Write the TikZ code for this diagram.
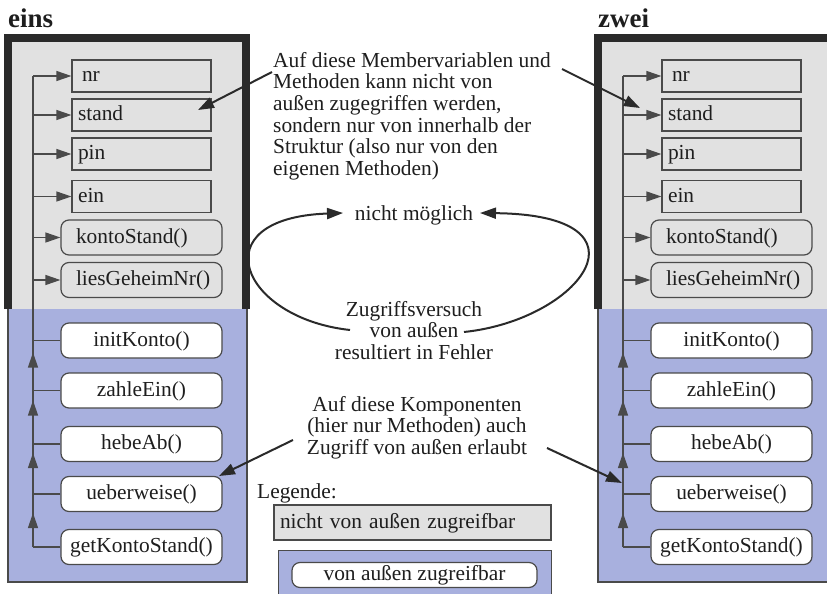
\documentclass[tikz,border=0pt]{standalone}
\usepackage{fontspec}
\setmainfont{Liberation Serif}
\usetikzlibrary{arrows.meta,calc}
\definecolor{grayfill}{HTML}{E1E1E1}
\definecolor{bluefill}{HTML}{A8B0DE}
\definecolor{framec}{HTML}{2A2A2A}
\definecolor{edgec}{HTML}{4A4A4A}
\definecolor{textc}{HTML}{1E1E1E}
\begin{document}
\begin{tikzpicture}[x=1pt,y=-1pt,
  font=\fontsize{21.4}{21.7}\selectfont, text=textc,
  boxbase/.style={draw=edgec,line width=1.2pt,inner ysep=0pt,text height=15.5pt,text depth=4.5pt},
  membox/.style={boxbase,fill=grayfill,minimum width=139pt,minimum height=32pt,inner xsep=6pt,text width=127pt,align=left},
  methbox/.style={boxbase,fill=grayfill,rounded corners=8pt,minimum width=161pt,minimum height=35pt,inner xsep=15pt,text width=131pt,align=left},
  pubbox/.style={boxbase,fill=white,rounded corners=8pt,minimum width=161pt,minimum height=35pt,inner xsep=0pt,align=center},
  link/.style={draw=edgec,line width=1.2pt},
  linkarr/.style={link,-{Triangle[length=15pt,width=10pt]}},
  callout/.style={draw=framec,line width=2pt,-{Triangle[length=16pt,width=11pt]}},
  title/.style={font=\fontsize{27}{27}\selectfont\bfseries,inner sep=0pt,anchor=base west},
  txt/.style={inner sep=0pt}
]
\useasboundingbox (0,0) rectangle (827,594);
\clip (0,0) rectangle (827,594);
\fill[white] (0,0) rectangle (827,594);

\foreach \p/\dx/\t in {L/0/eins,R/590/zwei}{
 \begin{scope}[xshift=\dx]
  \node[title] (\p-title) at (8,28) {\t};
  \fill[grayfill] (8,38) rectangle (246,309);
  \fill[bluefill] (8,309) rectangle (247,582);
  \draw[edgec,line width=1.2pt] (8,309) -- (8,582) -- (247,582) -- (247,309);
  \draw[framec,line width=8pt] (8,309) -- (8,38) -- (246,38) -- (246,309);
  \coordinate (\p-tx) at (33,0);
  \node[membox] (\p-nr) at (141.5,76) {\hspace{4pt}nr};
  \node[membox] (\p-stand) at (141.5,115) {stand};
  \node[membox] (\p-pin) at (141.5,154) {pin};
  \node[membox] (\p-ein) at (141.5,196.5) {ein};
  \node[methbox] (\p-ks) at (141.5,237.5) {kontoStand()};
  \node[methbox] (\p-lg) at (141.5,280) {liesGeheimNr()};
  \node[pubbox] (\p-ik) at (141.5,340.5) {initKonto()};
  \node[pubbox] (\p-ze) at (141.5,390.5) {zahleEin()};
  \node[pubbox] (\p-ha) at (141.5,444) {hebeAb()};
  \node[pubbox] (\p-uw) at (141.5,494) {ueberweise()};
  \node[pubbox] (\p-gk) at (141.5,547) {getKontoStand()};
  \draw[link] (\p-gk.west -| \p-tx) -- (\p-nr.west -| \p-tx);
  \foreach \b in {nr,stand,pin,ein,ks,lg} \draw[linkarr] (\p-\b.west -| \p-tx) -- (\p-\b.west);
  \foreach \b in {ik,ze,ha,uw,gk} \draw[link] (\p-\b.west) -- (\p-\b.west -| \p-tx);
  \foreach \b/\o in {ik/12,ze/10,ha/9,uw/19} \draw[linkarr] ($(\p-\b.west -| \p-tx)+(0,\o+16)$) -- ($(\p-\b.west -| \p-tx)+(0,\o)$);
 \end{scope}
}

% upper callout text (base anchor = last line)
\node[txt,anchor=base west,align=left] (t1) at (273,175.5) {Auf diese Membervariablen und\\Methoden kann nicht von\\außen zugegriffen werden,\\sondern nur von innerhalb der\\Struktur (also nur von den\\eigenen Methoden)};
\coordinate (c1a) at (272,72);
\coordinate (c1b) at (198,110);
\draw[callout] (c1a) -- (c1b);
\coordinate (c2a) at (562,69);
\coordinate (c2b) at (640,108);
\draw[callout] (c2a) -- (c2b);

% loop
\node[txt,anchor=base] (nm) at (414,220) {nicht möglich};
\node[txt,anchor=base,align=center] (zv) at (414,359.4) {Zugriffsversuch\\von außen\\resultiert in Fehler};
\coordinate (l1s) at (350,330);
\coordinate (l1e) at (343,213);
\coordinate (l2s) at (464,332);
\coordinate (l2e) at (480,213);
\draw[callout] (l1s) .. controls (240,318) and (200,218) .. (l1e);
\draw[callout] (l2s) .. controls (580,320) and (660,215) .. (l2e);

% lower callout
\node[txt,anchor=base,align=center] (t3) at (417,454.4) {Auf diese Komponenten\\(hier nur Methoden) auch\\Zugriff von außen erlaubt};
\coordinate (c3a) at (293,440);
\coordinate (c3b) at (219,476);
\draw[callout] (c3a) -- (c3b);
\coordinate (c4a) at (547,448);
\coordinate (c4b) at (622,483);
\draw[callout] (c4a) -- (c4b);

% legend
\node[txt,anchor=base west] (leg) at (257,498) {Legende:};
\node[boxbase,fill=grayfill,minimum width=277pt,minimum height=35pt,inner xsep=6pt,text width=265pt,align=left] (lg1) at (412.5,522.5) {nicht von außen zugreifbar};
\node[draw=edgec,line width=1.2pt,fill=bluefill,minimum width=273pt,minimum height=50pt,anchor=north west,inner sep=0pt] (lg2) at (278,550) {};
\node[pubbox,minimum width=245pt,minimum height=25pt] (lg3) at (414.5,575) {von außen zugreifbar};
\end{tikzpicture}
\end{document}
